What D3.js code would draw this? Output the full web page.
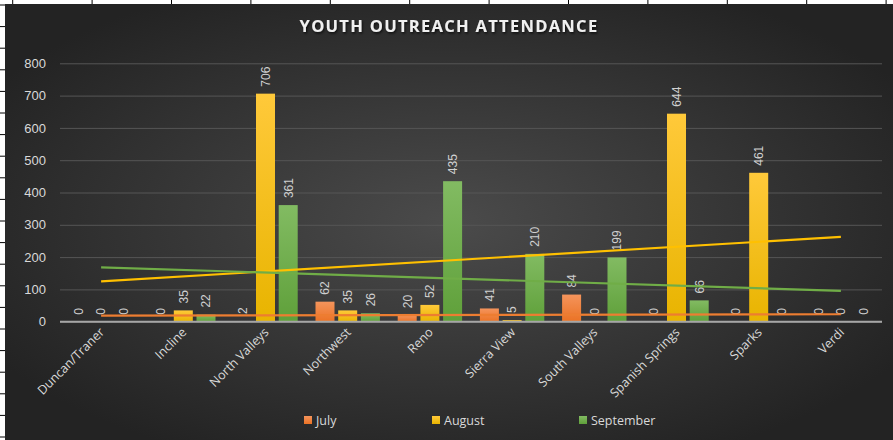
<!DOCTYPE html>
<html>
<head>
<meta charset="utf-8">
<script src="https://cdn.jsdelivr.net/npm/d3@7"></script>
<style>
  html, body { margin: 0; padding: 0; background: #fff; }
  svg { display: block; }
</style>
</head>
<body>
<svg id="chart" width="893" height="440"></svg>
<script>
// data
const sites = ["Duncan/Traner", "Incline", "North Valleys", "Northwest", "Reno",
  "Sierra View", "South Valleys", "Spanish Springs", "Sparks", "Verdi"];
const july = [0, 0, 2, 62, 20, 41, 84, 0, 0, 0];
const august = [0, 35, 706, 35, 52, 5, 0, 644, 461, 0];
const september = [0, 22, 361, 26, 435, 210, 199, 66, 0, 0];
const seriesNames = ["July", "August", "September"];
const yTicks = [0, 100, 200, 300, 400, 500, 600, 700, 800];

const colors = {
  July: ["#f4945c", "#eb7224"],
  August: ["#ffc93a", "#e8b400"],
  September: ["#82bb62", "#5fa03a"]
};
const lineColors = { July: "#ed7d31", August: "#ffc000", September: "#70ad47" };

const series = [
  { name: "July", values: july },
  { name: "August", values: august },
  { name: "September", values: september }
];

const W = 893, H = 440;
const svg = d3.select("#chart");
const defs = svg.append("defs");

// spreadsheet cells behind the chart
const cells = svg.append("g").attr("stroke", "#000").attr("stroke-width", 1);
for (let x = 12.7; x < W; x += 79.4) {
  cells.append("line").attr("x1", x).attr("x2", x).attr("y1", 0).attr("y2", 5);
}
for (let y = 5; y < H; y += 21.6) {
  cells.append("line").attr("x1", 0).attr("x2", 6).attr("y1", y).attr("y2", y);
}

// chart background
const bg = defs.append("radialGradient").attr("id", "bg")
  .attr("cx", "50%").attr("cy", "50%").attr("r", "60%");
bg.append("stop").attr("offset", "0%").attr("stop-color", "#4b4b4b");
bg.append("stop").attr("offset", "100%").attr("stop-color", "#232323");
svg.append("rect").attr("x", 5).attr("y", 4).attr("width", W - 5).attr("height", H - 4)
  .attr("fill", "url(#bg)");

seriesNames.forEach(n => {
  const g = defs.append("linearGradient").attr("id", "g" + n)
    .attr("x1", 0).attr("y1", 0).attr("x2", 0).attr("y2", 1);
  g.append("stop").attr("offset", "0%").attr("stop-color", colors[n][0]);
  g.append("stop").attr("offset", "100%").attr("stop-color", colors[n][1]);
});

const shadow = defs.append("filter").attr("id", "tshadow");
shadow.append("feDropShadow").attr("dx", 1).attr("dy", 1.5).attr("stdDeviation", 1)
  .attr("flood-color", "#000").attr("flood-opacity", 0.7);

// title
svg.append("text")
  .attr("x", 449).attr("y", 32)
  .attr("text-anchor", "middle")
  .attr("font-family", "Open Sans")
  .attr("font-weight", "bold")
  .attr("font-size", 16.5)
  .attr("letter-spacing", 1.3)
  .attr("fill", "#f0f0f0")
  .attr("filter", "url(#tshadow)")
  .text("YOUTH OUTREACH ATTENDANCE");

// scales
const x = d3.scaleBand().domain(sites).range([60, 882]);
const y = d3.scaleLinear().domain([0, 800]).range([321.7, 63.3]);
const off = d3.scalePoint().domain(seriesNames).range([-22.7, 22.7]);
const barW = 19;
const cx = d => x(d) + x.bandwidth() / 2;

// gridlines + y labels
const yAxis = svg.append("g").attr("transform", "translate(60,0)")
  .call(d3.axisLeft(y).tickValues(yTicks).tickSize(-822).tickPadding(14));
yAxis.select(".domain").remove();
yAxis.selectAll(".tick line").attr("stroke", "#565656").attr("stroke-width", 1);
yAxis.selectAll(".tick text")
  .attr("font-family", "Liberation Sans").attr("font-size", 13).attr("fill", "#d9d9d9");

// bars
const groups = svg.append("g").selectAll("g").data(series).join("g")
  .attr("fill", d => "url(#g" + d.name + ")");
groups.selectAll("rect")
  .data(s => s.values.map((v, i) => ({ name: s.name, site: sites[i], v })))
  .join("rect")
  .attr("x", d => cx(d.site) + off(d.name) - barW / 2)
  .attr("width", barW)
  .attr("y", d => y(d.v))
  .attr("height", d => y(0) - y(d.v));

// baseline
svg.append("line").attr("x1", 60).attr("x2", 882).attr("y1", y(0)).attr("y2", y(0))
  .attr("stroke", "#a6a6a6").attr("stroke-width", 2);

// linear trendlines from the series values
const line = d3.line().x(d => d[0]).y(d => d[1]);
series.forEach(s => {
  const n = s.values.length;
  const xs = d3.range(1, n + 1);
  const mx = d3.mean(xs), my = d3.mean(s.values);
  const slope = d3.sum(xs, (xi, i) => (xi - mx) * (s.values[i] - my)) /
    d3.sum(xs, xi => (xi - mx) ** 2);
  const at = xi => my + slope * (xi - mx);
  svg.append("path")
    .attr("d", line([[cx(sites[0]), y(at(1))], [cx(sites[n - 1]), y(at(n))]]))
    .attr("stroke", lineColors[s.name]).attr("stroke-width", 2.2).attr("fill", "none");
});

// data labels
groups.selectAll("text")
  .data(s => s.values.map((v, i) => ({ name: s.name, site: sites[i], v })))
  .join("text")
  .attr("transform", d => `translate(${cx(d.site) + off(d.name) + 4.3},${y(d.v) - 7}) rotate(-90)`)
  .attr("font-family", "Liberation Sans").attr("font-size", 12)
  .attr("fill", "#d0d0d0")
  .text(d => d.v);

// x labels
svg.append("g").selectAll("text").data(sites).join("text")
  .attr("transform", d => `translate(${cx(d) + 4},${333}) rotate(-45)`)
  .attr("text-anchor", "end")
  .attr("font-family", "Open Sans").attr("font-size", 12.5)
  .attr("fill", "#d9d9d9")
  .text(d => d);

// legend
const legX = { July: 304, August: 432, September: 579 };
const leg = svg.append("g").selectAll("g").data(seriesNames).join("g")
  .attr("transform", d => `translate(${legX[d]},416)`);
leg.append("rect").attr("width", 8).attr("height", 8)
  .attr("fill", d => "url(#g" + d + ")");
leg.append("text").attr("x", 12).attr("y", 8.5)
  .attr("font-family", "Open Sans").attr("font-size", 12.5)
  .attr("fill", "#d9d9d9")
  .text(d => d);
</script>
</body>
</html>
